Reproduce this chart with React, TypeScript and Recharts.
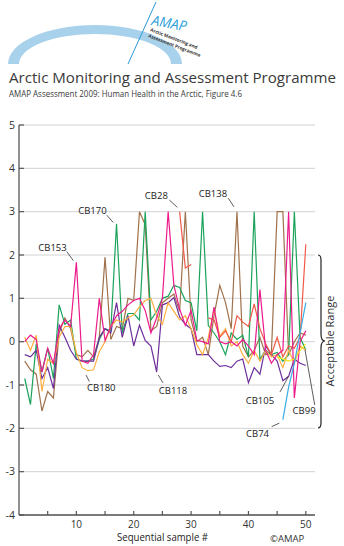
import React from 'react';
import { LineChart, Line, XAxis, YAxis, CartesianGrid, ReferenceLine, ReferenceDot } from 'recharts';

const FONT = "'Open Sans', 'Noto Sans', sans-serif";

const samples = [1,2,3,4,5,6,7,8,9,10,11,12,13,14,15,16,17,18,19,20,21,22,23,24,25,26,27,28,29,30,31,32,33,34,35,36,37,38,39,40,41,42,43,44,45,46,47,48,49,50];
const xTicks = [5,10,15,20,25,30,35,40,45,50];
const yTicks = [-4,-3,-2,-1,0,1,2,3,4,5];

const green = [-0.85,-1.45,-0.05,-0.7,-0.15,-0.85,0.85,0.4,0.5,-0.4,
  -0.45,-0.45,-0.4,0.05,0.3,0.25,2.72,0.2,0.65,0.65,
  0.5,3.0,0.5,0.7,1.0,1.05,1.3,1.25,0.95,0.9,
  0.25,3.0,0.37,0.2,0.0,-0.3,0.2,0.05,0.15,-0.35,
  3.0,-0.4,-0.2,-0.3,-0.25,-0.45,-0.3,3.0,0.1,-0.2];
const brown = [-0.45,-0.65,-0.75,-1.6,-1.15,-1.3,0.2,0.55,0.3,-0.3,
  -0.35,-0.2,-0.35,0.1,1.95,0.05,0.35,0.3,1.0,0.95,
  3.0,2.7,0.25,0.35,0.9,1.0,1.1,0.7,3.0,0.5,
  0.0,0.1,-0.3,0.6,1.3,0.9,0.3,3.0,-0.1,-0.35,
  -0.2,0.1,-0.3,-0.25,3.0,3.0,-0.3,0.0,0.2,0.15];
const purple = [-0.3,-0.35,-0.2,-0.85,-0.6,-1.08,0.38,0.1,-0.2,-0.4,
  -0.45,-0.45,-0.45,0.1,0.3,0.2,0.9,0.1,0.6,-0.1,
  0.38,0.03,-0.1,-0.7,0.85,0.9,1.02,0.57,0.4,0.3,
  -0.3,-0.3,-0.3,-0.45,-0.57,-0.55,-0.6,-0.45,-0.4,-0.95,
  -0.6,-0.75,-0.1,-0.3,-0.45,-0.9,-0.8,-0.4,-0.5,-0.55];
const orange = [0.1,-0.2,0.15,-1.15,-0.4,-0.5,0.1,0.35,0.35,-0.25,
  -0.6,-0.67,-0.65,-0.23,0.0,0.35,0.5,0.45,0.55,0.62,
  0.8,0.95,1.0,0.6,0.4,0.9,0.7,0.5,0.6,0.3,
  -0.07,-0.3,0.1,0.75,0.13,0.3,-0.1,0.0,-0.3,-0.5,
  -0.2,-0.45,-0.2,-0.35,-0.3,-0.6,-0.2,-0.5,-0.1,-0.2];
const pink = [0.0,0.15,0.05,-0.7,-0.15,-0.5,0.3,0.5,0.35,1.83,
  -0.45,-0.5,-0.3,1.0,0.03,0.35,0.6,0.7,0.85,0.95,
  1.0,0.72,0.2,0.55,1.0,3.0,1.3,0.75,0.38,0.72,
  0.03,0.0,-0.05,0.8,0.0,-0.05,0.0,-0.1,0.05,-0.1,
  -0.3,1.2,-0.2,-0.5,-0.3,-0.2,3.0,-1.3,0.0,0.25];
const red = [null,null,null,null,null,null,null,null,null,null,
  null,null,null,null,null,null,null,null,null,null,
  null,null,null,null,null,null,null,3.0,1.7,1.78,
  null,null,0.55,0.5,0.1,0.25,0.0,0.6,0.45,0.35,
  0.87,0.3,-0.05,-0.3,0.1,-0.35,-0.1,-0.15,0.1,2.25];
const blue = [null,null,null,null,null,null,null,null,null,null,
  null,null,null,null,null,null,null,null,null,null,
  null,null,null,null,null,null,null,null,null,null,
  null,null,null,null,null,null,null,null,null,null,
  null,null,null,null,null,-1.8,-1.05,-0.5,0.2,0.9];
const yellow = [null,null,null,null,null,null,null,null,null,null,
  null,null,null,null,null,null,null,null,null,null,
  null,null,null,null,null,null,null,null,null,null,
  null,null,null,null,null,null,null,null,null,null,
  null,null,null,null,-0.35,-0.4,-0.45,-0.4,-0.2,-0.05];

const congenerLabels = [
  { name: 'CB153', x: 5.84, y: 2.17, from: [8.32, 2.08], to: [9.47, 1.87] },
  { name: 'CB170', x: 12.8, y: 3.02, from: [15.29, 2.92], to: [16.44, 2.75] },
  { name: 'CB28', x: 23.94, y: 3.36, from: [26.2, 3.27], to: [27.6, 3.1] },
  { name: 'CB138', x: 33.8, y: 3.41, from: [36.49, 3.31], to: [37.48, 3.11] },
  { name: 'CB180', x: 14.35, y: -1.05, from: [11.68, -0.77], to: [12.26, -0.92] },
  { name: 'CB118', x: 26.85, y: -1.14, from: [24.28, -0.77], to: [25.1, -0.95] },
  { name: 'CB105', x: 42.0, y: -1.36, from: [45.5, -1.16], to: [46.95, -0.81] },
  { name: 'CB74', x: 41.58, y: -2.12, from: [44.05, -1.96], to: [45.38, -1.88] },
  { name: 'CB99', x: 49.7, y: -1.58, from: [51.55, -1.46], to: [49.86, -0.19] },
];

const rows = samples.map((s, i) => ({
  x: s,
  green: green[i], brown: brown[i], purple: purple[i], orange: orange[i],
  pink: pink[i], red: red[i], blue: blue[i], yellow: yellow[i],
}));

const series = [
  { key: 'brown', color: '#a0714b' },
  { key: 'green', color: '#1ba35b' },
  { key: 'purple', color: '#6d2f9c' },
  { key: 'orange', color: '#fdb041' },
  { key: 'red', color: '#f15a48' },
  { key: 'pink', color: '#ec1c8c' },
  { key: 'yellow', color: '#f3e51b' },
  { key: 'blue', color: '#35aee6' },
];

const XTick = (props: any) => {
  const { x, y, payload } = props;
  const v = payload.value;
  return (
    <g>
      <line x1={x} x2={x} y1={y - 4} y2={y} stroke="#555" strokeWidth={1.2} />
      {v % 10 === 0 ? (
        <text x={x} y={y + 13} textAnchor="middle" fontSize={10} fill="#333" fontFamily={FONT}>{v}</text>
      ) : null}
    </g>
  );
};

const YTick = (props: any) => {
  const { x, y, payload } = props;
  return (
    <g>
      <line x1={x} x2={x + 5} y1={y} y2={y} stroke="#555" strokeWidth={1.2} />
      <text x={x - 4} y={y} dy={3.6} textAnchor="end" fontSize={10.5} fill="#333" fontFamily={FONT}>{payload.value}</text>
    </g>
  );
};

export default function App() {
  return (
    <div style={{ position: 'absolute', left: 0, top: 0, width: 344, height: 546, background: '#fff', fontFamily: FONT }}>
      <div style={{ position: 'absolute', left: 0, top: 0 }}>
        <LineChart width={344} height={546} data={rows} margin={{ top: 125, right: 29, bottom: 0, left: 0 }}>
          <CartesianGrid horizontal vertical={false} stroke="#d2d2d2" strokeWidth={1} />
          <XAxis dataKey="x" type="number" domain={[0, 51.6]} ticks={xTicks} interval={0} height={31}
            tickSize={0} tickMargin={0} tickLine={false} axisLine={{ stroke: '#555', strokeWidth: 1.3 }}
            tick={<XTick />} allowDataOverflow />
          <YAxis type="number" domain={[-4, 5]} ticks={yTicks} interval={0} width={19}
            tickSize={0} tickMargin={0} tickLine={false} axisLine={{ stroke: '#555', strokeWidth: 1.3 }}
            tick={<YTick />} />
          {series.map((s) => (
            <Line key={s.key} dataKey={s.key} type="linear" stroke={s.color} strokeWidth={1.2}
              dot={false} activeDot={false} connectNulls={false} isAnimationActive={false} />
          ))}
          {congenerLabels.map((c) => (
            <ReferenceLine key={c.name + 'l'} segment={[{ x: c.from[0], y: c.from[1] }, { x: c.to[0], y: c.to[1] }]}
              stroke="#333" strokeWidth={0.8} ifOverflow="visible" />
          ))}
          {congenerLabels.map((c) => (
            <ReferenceDot key={c.name} x={c.x} y={c.y} r={1} fill="none" stroke="none" ifOverflow="visible"
              label={{ value: c.name, position: 'center', fill: '#222', fontSize: 9.5, fontFamily: FONT }} />
          ))}
        </LineChart>
      </div>
      <svg width={344} height={546} style={{ position: 'absolute', left: 0, top: 0, pointerEvents: 'none' }}>
        <path d="M 8 64 A 87 39 0 0 1 182 64 L 171 64 A 76 30 0 0 0 19 64 Z" fill="#a8d1ec" />
        <line x1={156} y1={2} x2={128} y2={64} stroke="#2b9ad6" strokeWidth={1} />
        <text x={151} y={25} fontSize={14} fontStyle="italic" fill="#2a9fd8" fontFamily={FONT} transform="rotate(10 151 25)">AMAP</text>
        <text x={150} y={31} fontSize={4.6} fontWeight="bold" fill="#333" fontFamily={FONT} transform="rotate(21 150 31)">Arctic Monitoring and</text>
        <text x={148} y={37} fontSize={4.6} fontWeight="bold" fill="#333" fontFamily={FONT} transform="rotate(21 148 37)">Assessment Programme</text>
        <text x={9} y={83} fontSize={15} fill="#3a3a3a" fontFamily={FONT} textLength={327} lengthAdjust="spacingAndGlyphs">Arctic Monitoring and Assessment Programme</text>
        <text x={9} y={97} fontSize={9} fill="#3a3a3a" fontFamily={FONT} textLength={233} lengthAdjust="spacingAndGlyphs">AMAP Assessment 2009: Human Health in the Arctic, Figure 4.6</text>
        <path d="M 318 255 Q 321 255 321 260 L 321 334 Q 321 341 325 341 Q 321 341 321 348 L 321 423 Q 321 428 318 428" fill="none" stroke="#222" strokeWidth={1.2} />
        <text x={334} y={341} fontSize={11} fill="#333" fontFamily={FONT} textAnchor="middle" transform="rotate(-90 334 341)">Acceptable Range</text>
        <text x={117} y={541} fontSize={10.5} fill="#222" fontFamily={FONT} textLength={91} lengthAdjust="spacingAndGlyphs">Sequential sample #</text>
        <text x={270} y={542} fontSize={9.5} fill="#333" fontFamily={FONT}>©AMAP</text>
      </svg>
    </div>
  );
}
